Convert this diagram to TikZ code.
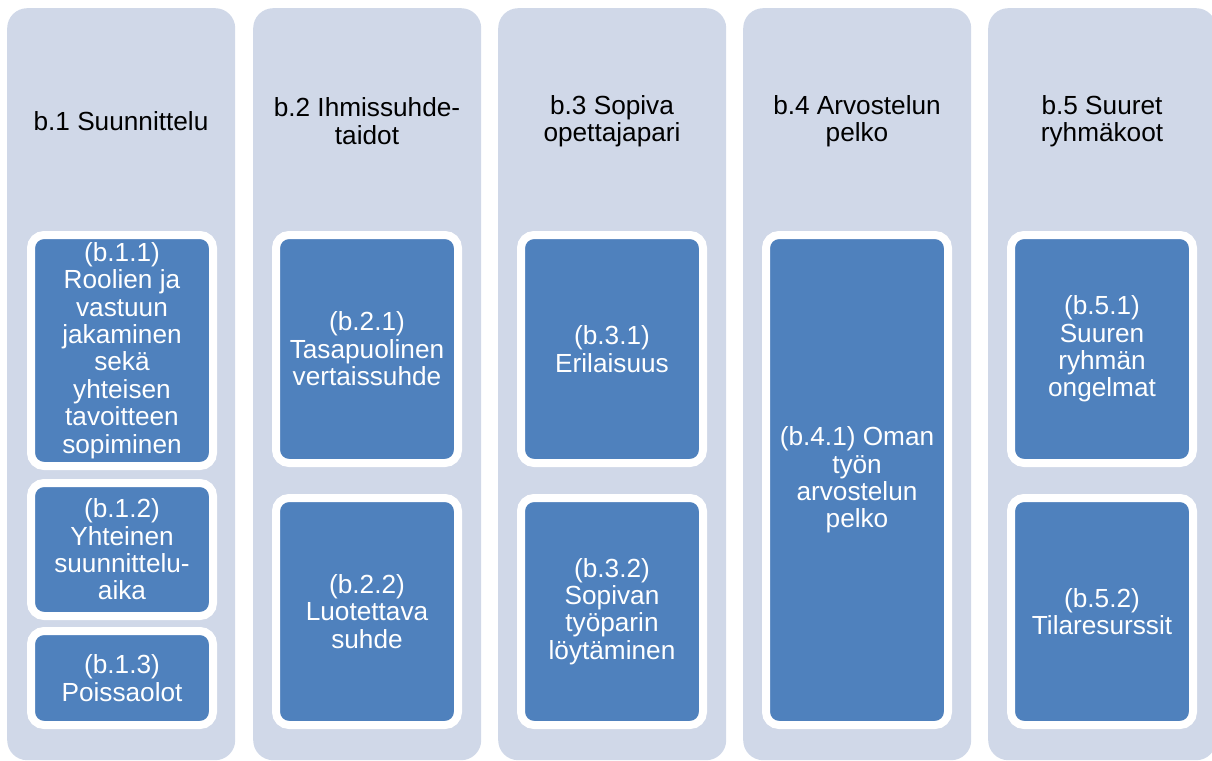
\documentclass[tikz,border=0pt]{standalone}
\usepackage{fontspec}
\setmainfont{Liberation Sans}
\usetikzlibrary{shadows}
\definecolor{colbg}{RGB}{208,216,232}
\definecolor{itemblue}{RGB}{79,129,189}
\newcommand{\boxfont}{\fontsize{26.2pt}{27.4pt}\selectfont}
\tikzset{
  column/.style={fill=colbg, rounded corners=20pt, minimum width=228pt,
    minimum height=752pt, inner sep=0pt, anchor=north west},
  header/.style={text=black, align=center, font=\boxfont, inner sep=0pt},
  item/.style={fill=itemblue, draw=white, line width=8pt, rounded corners=13pt,
    text=white, align=center, font=\boxfont, inner sep=0pt,
    minimum width=182pt,
    drop shadow={opacity=0.25, shadow xshift=1pt, shadow yshift=-3pt}}
}
\begin{document}
\begin{tikzpicture}[x=1pt,y=-1pt]
\useasboundingbox (0,0) rectangle (1212,760);
\clip (0,0) rectangle (1212,760);

% background columns
\node[column] (c1) at (7,8) {};
\node[column] (c2) at (253,8) {};
\node[column] (c3) at (498,8) {};
\node[column] (c4) at (743,8) {};
\node[column] (c5) at (988,8) {};

% column headings
\node[header] (h1) at (121,121) {b.1 Suunnittelu};
\node[header] (h2) at (367,121) {b.2 Ihmissuhde-\\taidot};
\node[header] (h3) at (612,121) {b.3 Sopiva\\opettajapari};
\node[header] (h4) at (857,121) {b.4 Arvostelun\\pelko};
\node[header] (h5) at (1102,121) {b.5 Suuret\\ryhmäkoot};

% b.1 items
\node[item, minimum height=231pt] (b11) at (122,350.5)
  {(b.1.1)\\Roolien ja\\vastuun\\jakaminen\\sekä\\yhteisen\\tavoitteen\\sopiminen};
\node[item, minimum height=133pt] (b12) at (122,549.5)
  {(b.1.2)\\Yhteinen\\suunnittelu-\\aika};
\node[item, minimum height=94pt] (b13) at (122,678)
  {(b.1.3)\\Poissaolot};

% b.2 items
\node[item, minimum height=228pt] (b21) at (367,349)
  {(b.2.1)\\Tasapuolinen\\vertaissuhde};
\node[item, minimum height=227pt] (b22) at (367,611.5)
  {(b.2.2)\\Luotettava\\suhde};

% b.3 items
\node[item, minimum height=228pt] (b31) at (612,349)
  {(b.3.1)\\Erilaisuus};
\node[item, minimum height=227pt] (b32) at (612,611.5)
  {(b.3.2)\\Sopivan\\työparin\\löytäminen};

% b.4 item
\node[item, minimum height=490pt] (b41) at (857,480)
  {(b.4.1) Oman\\työn\\arvostelun\\pelko};

% b.5 items
\node[item, minimum height=228pt] (b51) at (1102,349)
  {(b.5.1)\\Suuren\\ryhmän\\ongelmat};
\node[item, minimum height=227pt] (b52) at (1102,611.5)
  {(b.5.2)\\Tilaresurssit};
\end{tikzpicture}
\end{document}
